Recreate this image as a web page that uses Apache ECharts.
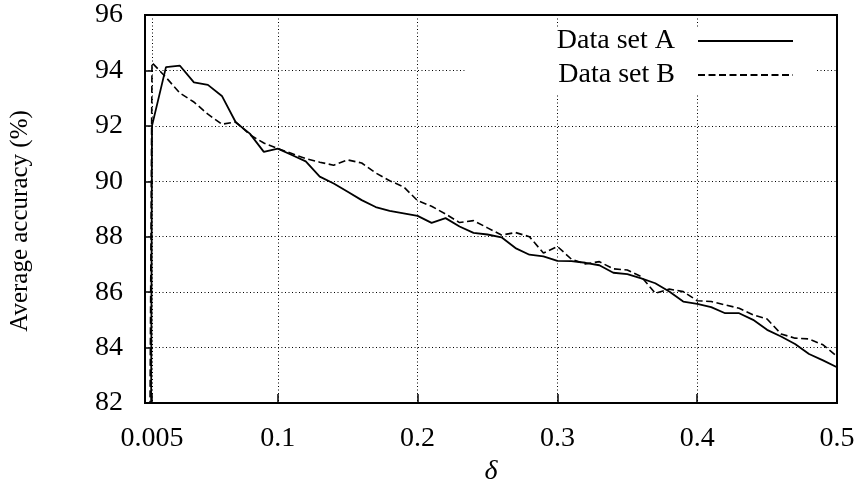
<!DOCTYPE html>
<html>
<head>
<meta charset="utf-8">
<script src="https://cdn.jsdelivr.net/npm/echarts@6/dist/echarts.min.js"></script>
<style>
html,body{margin:0;padding:0;background:#fff;}
#chart{width:859px;height:503px;}
</style>
</head>
<body>
<div id="chart"></div>
<script>
// δ values (x)
var deltas = [0.005, 0.01, 0.02, 0.03, 0.04, 0.05, 0.06, 0.07, 0.08, 0.09, 0.10,
  0.11, 0.12, 0.13, 0.14, 0.15, 0.16, 0.17, 0.18, 0.19, 0.20,
  0.21, 0.22, 0.23, 0.24, 0.25, 0.26, 0.27, 0.28, 0.29, 0.30,
  0.31, 0.32, 0.33, 0.34, 0.35, 0.36, 0.37, 0.38, 0.39, 0.40,
  0.41, 0.42, 0.43, 0.44, 0.45, 0.46, 0.47, 0.48, 0.49, 0.50];

var dataSetA = [10, 92.0, 94.12, 94.17, 93.57, 93.48, 93.08, 92.12, 91.72, 91.06, 91.18,
  90.95, 90.72, 90.17, 89.92, 89.62, 89.32, 89.07, 88.93, 88.84, 88.75,
  88.5, 88.67, 88.37, 88.14, 88.08, 87.98, 87.59, 87.35, 87.29, 87.13,
  87.12, 87.06, 86.97, 86.7, 86.65, 86.5, 86.32, 86.02, 85.66, 85.58,
  85.46, 85.24, 85.24, 85.0, 84.64, 84.4, 84.13, 83.77, 83.54, 83.29];

var dataSetB = [50, 94.28, 93.75, 93.18, 92.86, 92.42, 92.06, 92.14, 91.68, 91.38, 91.18,
  91.0, 90.82, 90.69, 90.58, 90.77, 90.66, 90.3, 90.02, 89.8, 89.3,
  89.1, 88.82, 88.51, 88.58, 88.32, 88.06, 88.15, 88.0, 87.41, 87.65,
  87.19, 87.02, 87.1, 86.84, 86.8, 86.56, 85.96, 86.11, 86.02, 85.69,
  85.66, 85.54, 85.42, 85.18, 85.03, 84.49, 84.34, 84.31, 84.1, 83.68];

var xTickValues = [0.01, 0.1, 0.2, 0.3, 0.4, 0.5];
var xTickLabels = ['0.005', '0.1', '0.2', '0.3', '0.4', '0.5'];

var seriesNames = ['Data set A', 'Data set B'];

var FONT = 'Liberation Serif';

function pairs(xs, ys) {
  var out = [];
  for (var i = 0; i < xs.length; i++) out.push([xs[i], ys[i]]);
  return out;
}

var chart = echarts.init(document.getElementById('chart'), null, {renderer: 'canvas'});

var gridLine = {show: true, lineStyle: {color: '#000', width: 1, type: [1, 2.5]}};

chart.setOption({
  animation: false,
  backgroundColor: '#fff',
  grid: {left: 145, right: 22, top: 15, bottom: 100, show: true, borderColor: '#000', borderWidth: 2, backgroundColor: 'transparent'},
  legend: {
    orient: 'vertical', right: 42, top: 27, align: 'right',
    itemWidth: 95, itemHeight: 14, itemGap: 6,
    padding: [0, 23, 4, 92],
    backgroundColor: '#fff',
    itemStyle: {opacity: 0},
    textStyle: {fontFamily: FONT, fontSize: 28, color: '#000', padding: [0, 18, 0, 0]},
    data: seriesNames
  },
  xAxis: {
    type: 'value', min: 0.005, max: 0.5,
    name: 'δ', nameLocation: 'middle', nameGap: 50,
    nameTextStyle: {fontFamily: FONT, fontSize: 28, fontStyle: 'italic', color: '#000'},
    axisLine: {show: false},
    axisTick: {show: true, inside: true, length: 9, customValues: xTickValues, lineStyle: {color: '#000', width: 1.5}},
    axisLabel: {
      customValues: xTickValues, margin: 22,
      fontFamily: FONT, fontSize: 28, color: '#000',
      formatter: function (v) {
        for (var i = 0; i < xTickValues.length; i++) if (Math.abs(xTickValues[i] - v) < 1e-9) return xTickLabels[i];
        return '';
      }
    },
    splitLine: gridLine
  },
  yAxis: {
    type: 'value', min: 82, max: 96, interval: 2,
    name: 'Average accuracy (%)', nameLocation: 'middle', nameGap: 112, nameRotate: 90,
    nameTextStyle: {fontFamily: FONT, fontSize: 25, color: '#000', padding: [0, 24, 0, 0]},
    axisLine: {show: false},
    axisTick: {show: true, inside: true, length: 8, lineStyle: {color: '#000', width: 1.5}},
    axisLabel: {margin: 22, fontFamily: FONT, fontSize: 28, color: '#000'},
    splitLine: gridLine
  },
  series: [
    {
      name: seriesNames[0], type: 'line', data: pairs(deltas, dataSetA),
      symbol: 'none', clip: true,
      lineStyle: {color: '#000', width: 1.8, type: 'solid'},
      itemStyle: {color: '#000'}
    },
    {
      name: seriesNames[1], type: 'line', data: pairs(deltas, dataSetB),
      symbol: 'none', clip: true,
      lineStyle: {color: '#000', width: 1.6, type: [7, 3.5]},
      itemStyle: {color: '#000'}
    }
  ]
});
</script>
</body>
</html>
